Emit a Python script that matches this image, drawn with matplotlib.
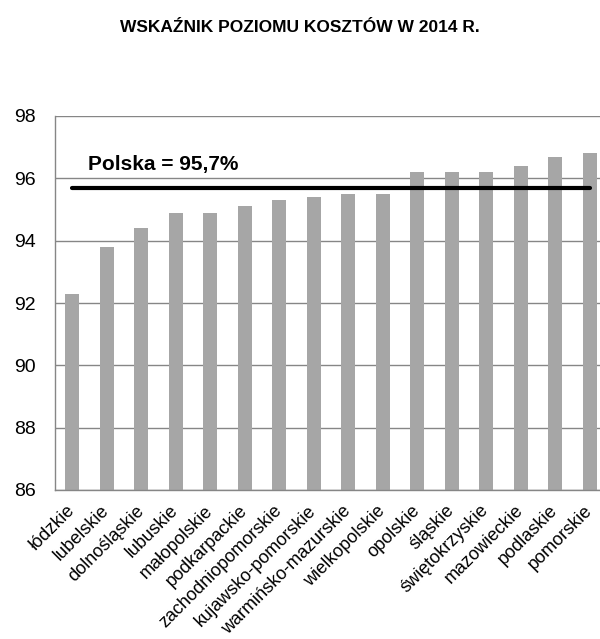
import matplotlib
matplotlib.use("Agg")
import matplotlib.pyplot as plt
import numpy as np

plt.rcParams['font.family'] = ['Liberation Sans', 'DejaVu Sans']

regions = ["łódzkie", "lubelskie", "dolnośląskie", "lubuskie", "małopolskie",
           "podkarpackie", "zachodniopomorskie", "kujawsko-pomorskie",
           "warmińsko-mazurskie", "wielkopolskie", "opolskie", "śląskie",
           "świętokrzyskie", "mazowieckie", "podlaskie", "pomorskie"]
values = [92.3, 93.8, 94.4, 94.9, 94.9, 95.1, 95.3, 95.4, 95.5, 95.5,
          96.2, 96.2, 96.2, 96.4, 96.7, 96.8]
poland = 95.7
yticks = [86, 88, 90, 92, 94, 96, 98]

fig = plt.figure(figsize=(6.0, 6.39), dpi=100)
W, H = 600, 639
ax = fig.add_axes([55 / W, 1 - 490 / H, 552 / W, (490 - 116) / H])

x = np.arange(len(regions))
ax.bar(x, values, width=0.4, color='#a6a6a6', zorder=2, bottom=0)
ax.plot([x[0], x[-1]], [poland, poland], color='black', lw=3, zorder=3,
        solid_capstyle='round')
ax.text(x[0] + 0.45, poland + 0.73, "Polska = 95,7%", fontsize=15,
        fontweight='bold', ha='left', va='center')

ax.set_ylim(86, 98)
ax.set_xlim(-0.5, len(regions) - 0.5)
ax.set_yticks(yticks)
ax.set_yticklabels([str(t) for t in yticks], fontsize=14)
ax.yaxis.grid(True, color='#868686', lw=1, zorder=0)
ax.set_axisbelow(True)
ax.tick_params(axis='y', length=0, pad=14)
ax.tick_params(axis='x', length=0, pad=13)
ax.set_xticks(x)
ax.set_xticklabels(regions, rotation=45, ha='right', va='center',
                   rotation_mode='anchor', fontsize=13)
for s in ['top', 'right']:
    ax.spines[s].set_visible(False)
for s in ['left', 'bottom']:
    ax.spines[s].set_color('#868686')
    ax.spines[s].set_linewidth(1)

fig.text(300 / W, 1 - 27 / H, "WSKAŹNIK POZIOMU KOSZTÓW W 2014 R.",
         fontsize=12.5, fontweight='bold', ha='center', va='center')

fig.savefig("out.png", dpi=100)
